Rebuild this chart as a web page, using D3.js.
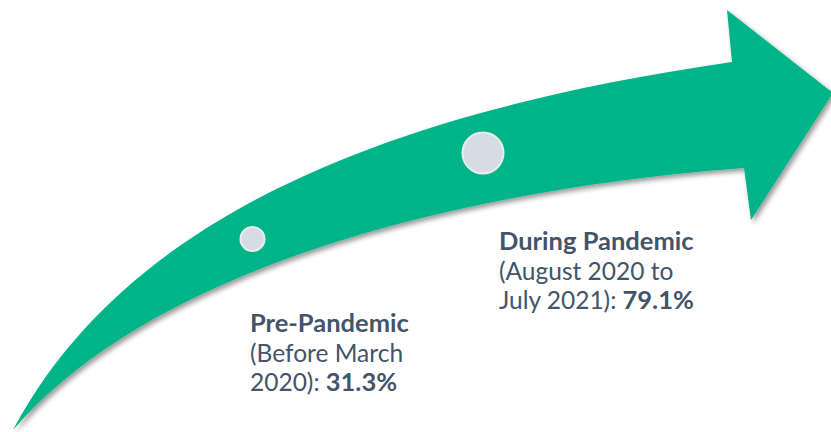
<!DOCTYPE html>
<html>
<head>
<meta charset="utf-8">
<script src="https://cdn.jsdelivr.net/npm/d3@7"></script>
<style>
  html, body { margin: 0; padding: 0; background: #ffffff; }
  svg { display: block; }
</style>
</head>
<body>
<div id="chart"></div>
<script>
// ---- Data ----
const periods = ["Pre-Pandemic", "During Pandemic"];
const periodDetailA = ["(Before March", "(August 2020 to"];
const periodDetailB = ["2020): ", "July 2021): "];
const values = [31.3, 79.1];
const valueLabels = ["31.3%", "79.1%"];

// ---- Layout ----
const W = 831, H = 432;
const svg = d3.select("#chart").append("svg")
  .attr("width", W).attr("height", H);

const defs = svg.append("defs");
const f = defs.append("filter").attr("id", "shadow")
  .attr("x", "-10%").attr("y", "-10%").attr("width", "130%").attr("height", "130%");
f.append("feDropShadow").attr("dx", 2.5).attr("dy", 3).attr("stdDeviation", 2.5)
  .attr("flood-color", "#000").attr("flood-opacity", 0.4);

// Arrow geometry (decorative shape), built with d3.path
const p = d3.path();
p.moveTo(13, 430);
p.bezierCurveTo(130, 210, 400, 110, 732, 62);   // upper edge of shaft
p.lineTo(727, 10);                               // upper barb
p.lineTo(833, 93);                               // tip
p.lineTo(751, 220);                              // lower barb
p.lineTo(744, 168);                              // notch
p.bezierCurveTo(450, 190, 150, 270, 13, 430);   // lower edge of shaft
p.closePath();

svg.append("path").attr("d", p.toString())
  .attr("fill", "#02b489")
  .attr("filter", "url(#shadow)");

// Scale mapping value to position along the arrow
const xScale = d3.scaleLinear().domain([values[0], values[1]]).range([252.5, 483]);
const yScale = d3.scaleLinear().domain([values[0], values[1]]).range([239, 153]);
const rScale = d3.scaleLinear().domain([values[0], values[1]]).range([12, 20.5]);

svg.selectAll("circle.pt").data(values).join("circle")
  .attr("class", "pt")
  .attr("cx", v => xScale(v))
  .attr("cy", v => yScale(v))
  .attr("r", v => rScale(v))
  .attr("fill", "#d6dce5")
  .attr("stroke", "#ececec")
  .attr("stroke-width", 2);

// Labels
const labelPos = [[250, 332], [499, 250]];
const lineH = 29.5;
const fontFam = "Lato, 'Open Sans', sans-serif";
const fsReg = 24.5, fsBold = 25.5;
const color = "#44546a";

periods.forEach((name, i) => {
  const g = svg.append("g").attr("font-family", fontFam).attr("fill", color);
  const [x, y] = labelPos[i];
  g.append("text").attr("x", x).attr("y", y).attr("font-weight", "bold")
    .attr("font-size", fsBold).text(name);
  g.append("text").attr("x", x).attr("y", y + lineH)
    .attr("font-size", fsReg).text(periodDetailA[i]);
  const t = g.append("text").attr("x", x).attr("y", y + 2 * lineH).attr("font-size", fsReg);
  t.append("tspan").text(periodDetailB[i]);
  t.append("tspan").attr("font-weight", "bold").attr("font-size", fsBold).text(valueLabels[i]);
});
</script>
</body>
</html>
